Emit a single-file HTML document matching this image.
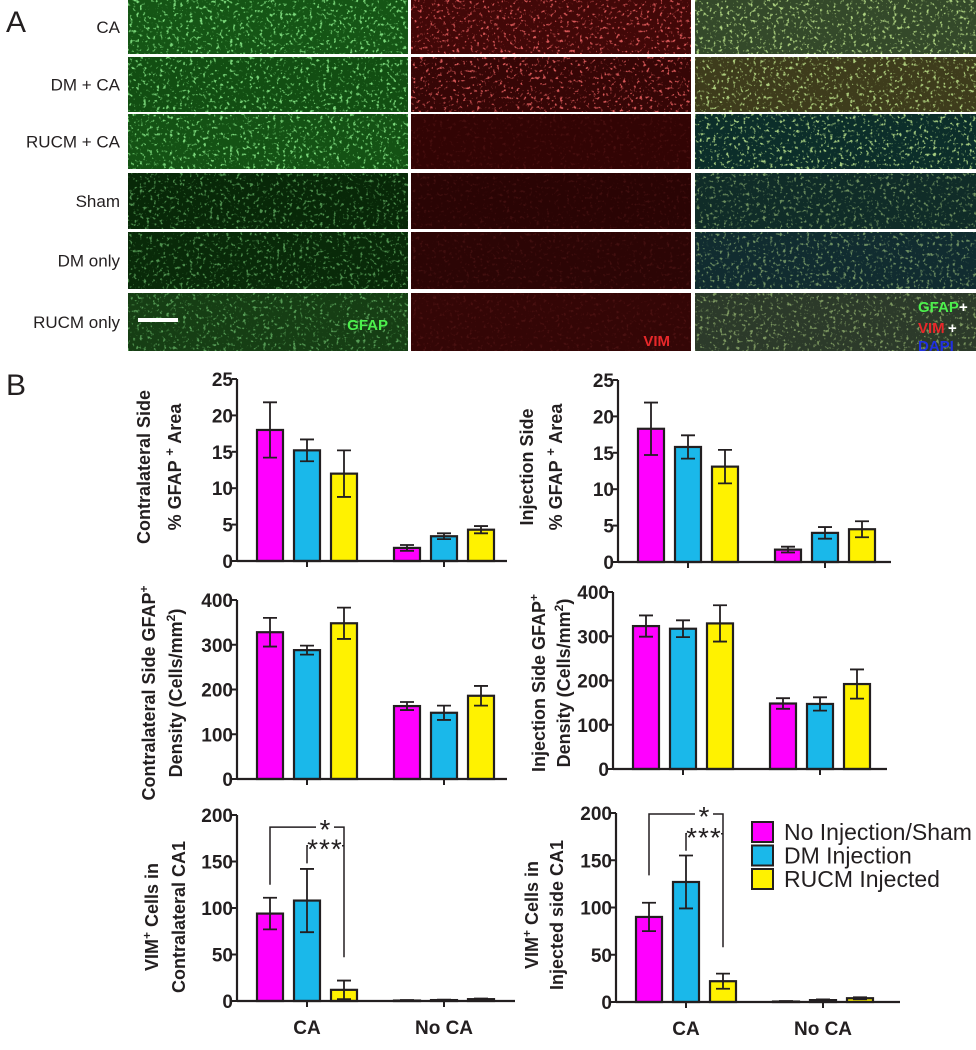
<!DOCTYPE html>
<html><head><meta charset="utf-8">
<style>
html,body{margin:0;padding:0;background:#fff;}
svg{display:block;font-family:"Liberation Sans",Arial,sans-serif;}
.tk{font-weight:bold;font-size:19px;fill:#231f20;}
.yt{font-weight:bold;font-size:18px;fill:#231f20;}
</style></head>
<body>
<svg id="fig" width="976" height="1050" viewBox="0 0 976 1050">
<defs>
<filter id="speck0" x="0" y="0" width="100%" height="100%">
<feTurbulence type="fractalNoise" baseFrequency="0.3" numOctaves="2" seed="4" result="n"/>
<feColorMatrix in="n" type="matrix" values="0 0 0 0 0.3  0 0 0 0 0.95  0 0 0 0 0.3  0 0 0 6 -3.5"/>
</filter>
<filter id="speck1" x="0" y="0" width="100%" height="100%">
<feTurbulence type="fractalNoise" baseFrequency="0.3" numOctaves="2" seed="7" result="n"/>
<feColorMatrix in="n" type="matrix" values="0 0 0 0 1  0 0 0 0 0.15  0 0 0 0 0.15  0 0 0 6 -3.6"/>
</filter>
<filter id="speck2" x="0" y="0" width="100%" height="100%">
<feTurbulence type="fractalNoise" baseFrequency="0.3" numOctaves="2" seed="9" result="n"/>
<feColorMatrix in="n" type="matrix" values="0 0 0 0 0.6  0 0 0 0 0.9  0 0 0 0 0.3  0 0 0 6 -3.5"/>
</filter>
</defs>
<text x="6" y="32" font-size="30" fill="#231f20">A</text>
<text x="6" y="395" font-size="30" fill="#231f20">B</text>
<g id="micro"></g>
<g id="charts"></g>
</svg>
<script>
const NS='http://www.w3.org/2000/svg';
function mk(tag,attrs,parent){const e=document.createElementNS(NS,tag);for(const k in attrs)e.setAttribute(k,attrs[k]);parent.appendChild(e);return e;}
// ---------- micrographs ----------
const rowLabels=['CA','DM + CA','RUCM + CA','Sham','DM only','RUCM only'];
const rowY=[0,57,114,173,232,293];
const rowH=[54,55,55,56,57,58];
const colX=[128,411,695];
const colW=[280,280,281];
const greenC=['#155515','#124e12','#145214','#082808','#092a09','#163e14'];
const redC=['#420808','#360606','#320404','#2a0404','#2c0505','#340606'];
const mergeC=['#34492a','#3e3c1c','#0c2e2a','#102c28','#112c30','#2c3a2a'];
const micro=document.getElementById('micro');
rowLabels.forEach((lab,r)=>{
  const t=mk('text',{x:120,y:rowY[r]+rowH[r]/2+6,'text-anchor':'end','font-size':'17',fill:'#231f20'},micro);
  t.textContent=lab;
  
  
  [greenC,redC,mergeC].forEach((cols,c)=>{
    const g=mk('g',{},micro);
    
    
    mk('rect',{x:colX[c],y:rowY[r],width:colW[c],height:rowH[r],fill:cols[r]},g);
    const o=(c===1&&r>=2)?0.1:(r<3?0.8:0.5);
    mk('rect',{x:colX[c],y:rowY[r],width:colW[c],height:rowH[r],fill:'#000',filter:'url(#speck'+c+')',opacity:o},g);
  });
});
function lbl(x,y,txt,fill,name,anchor){const t=mk('text',{x:x,y:y,'font-size':'15','font-weight':'bold',fill:fill,'text-anchor':anchor||'start'},micro);t.textContent=txt;}
lbl(388,330,'GFAP','#4cf04c','gfap-label','end');
lbl(670,346,'VIM','#e8282a','vim-label','end');
lbl(918,312,'GFAP','#4cf04c','merge-gfap-label');lbl(959,312,'+','#fff','plus1');
lbl(918,333,'VIM','#e8282a','merge-vim-label');lbl(948,333,'+','#fff','plus2');
lbl(918,351,'DAPI','#2030e0','merge-dapi-label');
const sb=mk('rect',{x:138,y:318,width:40,height:4,fill:'#fff'},micro);



// ---------- chart data ----------
const groups=['CA','No CA'];
const seriesNames=['No Injection/Sham','DM Injection','RUCM Injected'];
const colors=['#ff00ff','#1ab8ea','#fff200'];
const tlVals=[[18,15.2,12],[1.8,3.4,4.3]];
const tlErr=[[3.8,1.5,3.2],[0.4,0.4,0.5]];
const trVals=[[18.3,15.8,13.1],[1.7,4.0,4.5]];
const trErr=[[3.6,1.6,2.3],[0.4,0.8,1.1]];
const mlVals=[[328,288,348],[163,148,186]];
const mlErr=[[32,10,35],[9,16,22]];
const mrVals=[[323,317,329],[148,147,192]];
const mrErr=[[24,19,41],[12,15,33]];
const blVals=[[94,108,12],[0.5,1,2]];
const blErr=[[17,34,10],[0.5,0.5,0.6]];
const brVals=[[90,127,22],[0.5,2,4]];
const brErr=[[15,28,8],[0.5,0.8,1]];
const pctTicks=[0,5,10,15,20,25];
const densTicks=[0,100,200,300,400];
const vimTicks=[0,50,100,150,200];
const blSig=[187,167,125,148,47];
const brSig=[199,178,134,160,58];

const charts=document.getElementById('charts');
function chart(cfg){
  const g=mk('g',{},charts);
  
  
  const max=cfg.ticks[cfg.ticks.length-1];
  const y=v=>cfg.y0-(v/max)*(cfg.y0-cfg.yTop);
  const gx=i=>cfg.ax+[70,207][i];
  const bx=(i,j)=>gx(i)+(j-1)*37;
  cfg.vals.forEach((gv,i)=>gv.forEach((v,j)=>{
    const r=mk('rect',{x:bx(i,j)-13,y:y(v),width:26,height:Math.max(cfg.y0-y(v),0.5),fill:colors[j],stroke:'#231f20','stroke-width':2.2},g);
    
    
    const e=cfg.err[i][j];
    const eg=mk('path',{d:`M${bx(i,j)} ${y(v+e)}V${y(Math.max(v-e,0))}M${bx(i,j)-7} ${y(v+e)}h14M${bx(i,j)-7} ${y(Math.max(v-e,0))}h14`,stroke:'#231f20','stroke-width':1.8,fill:'none'},g);
    
    
  }));
  const axy=mk('path',{d:`M${cfg.ax} ${cfg.yTop}V${cfg.y0}`,stroke:'#231f20','stroke-width':2.2,fill:'none'},g);
  
  
  const axx=mk('path',{d:`M${cfg.ax} ${cfg.y0}H${cfg.ax+cfg.len}`,stroke:'#231f20','stroke-width':2.2,fill:'none'},g);
  
  
  cfg.ticks.forEach(t=>{
    mk('path',{d:`M${cfg.ax-5} ${y(t)}H${cfg.ax}`,stroke:'#231f20','stroke-width':2},g);
    const tx=mk('text',{x:cfg.ax-4,y:y(t)+7,'text-anchor':'end',class:'tk'},g);
    tx.textContent=t;
    
    
  });
  groups.forEach((gname,i)=>{
    mk('path',{d:`M${gx(i)} ${cfg.y0}v6`,stroke:'#231f20','stroke-width':2},g);
    if(cfg.xlabels){
      const tx=mk('text',{x:gx(i),y:cfg.y0+33,'text-anchor':'middle',class:'tk'},g);
      tx.textContent=gname;
      
      
    }
  });
  cfg.title.forEach((ln,k)=>{
    const tx=mk('text',{x:0,y:0,'text-anchor':'middle',class:'yt',transform:`translate(${ln.x},${cfg.tc}) rotate(-90)`},g);
    tx.innerHTML=ln.t;
    
    
  });
  if(cfg.sig){
    const s=cfg.sig;
    const xr=bx(0,2);
    const p=mk('path',{d:`M${bx(0,0)} ${y(s[2])}V${y(s[0])}H${xr}V${y(s[4])}M${bx(0,1)} ${y(s[3])}V${y(s[1])}H${xr}`,stroke:'#231f20','stroke-width':1.5,fill:'none'},g);
    
    
    mk('rect',{x:xr-28,y:y(s[0])-3,width:18,height:6,fill:'#fff'},g);
    const a=mk('text',{x:xr-19,y:y(s[0])+12,'text-anchor':'middle','font-size':'28',fill:'#231f20'},g);
    a.textContent='*';
    
    
    mk('rect',{x:xr-36,y:y(s[1])-3,width:34,height:6,fill:'#fff'},g);
    const b=mk('text',{x:xr-19,y:y(s[1])+13,'text-anchor':'middle','font-size':'28','letter-spacing':'1',fill:'#231f20'},g);
    b.textContent='***';
    
    
  }
}
chart({name:'chart-contralateral-area',ax:237,yTop:379,y0:561,len:270,ticks:pctTicks,vals:tlVals,err:tlErr,tc:467,
  title:[{x:150,t:'Contralateral Side'},{x:181,t:'% GFAP <tspan dy="-7" font-size="13">+</tspan><tspan dy="7"> Area</tspan>'}]});
chart({name:'chart-injection-area',ax:618,yTop:380,y0:562,len:273,ticks:pctTicks,vals:trVals,err:trErr,tc:467,
  title:[{x:533,t:'Injection Side'},{x:562,t:'% GFAP <tspan dy="-7" font-size="13">+</tspan><tspan dy="7"> Area</tspan>'}]});
chart({name:'chart-contralateral-density',ax:237,yTop:600,y0:779,len:270,ticks:densTicks,vals:mlVals,err:mlErr,tc:693,
  title:[{x:155,t:'Contralateral Side GFAP<tspan dy="-7" font-size="12">+</tspan>'},{x:182,t:'Density (Cells/mm<tspan dy="-7" font-size="12">2</tspan><tspan dy="7">)</tspan>'}]});
chart({name:'chart-injection-density',ax:613,yTop:592,y0:769,len:274,ticks:densTicks,vals:mrVals,err:mrErr,tc:683,
  title:[{x:545,t:'Injection Side GFAP<tspan dy="-7" font-size="12">+</tspan>'},{x:570,t:'Density (Cells/mm<tspan dy="-7" font-size="12">2</tspan><tspan dy="7">)</tspan>'}]});
chart({name:'chart-contralateral-vim',ax:237,yTop:815,y0:1001,len:278,ticks:vimTicks,vals:blVals,err:blErr,tc:917,xlabels:true,sig:blSig,
  title:[{x:158,t:'VIM<tspan dy="-7" font-size="12">+</tspan><tspan dy="7"> Cells in</tspan>'},{x:185,t:'Contralateral CA1'}]});
chart({name:'chart-injected-vim',ax:616,yTop:813,y0:1002,len:284,ticks:vimTicks,vals:brVals,err:brErr,tc:915,xlabels:true,sig:brSig,
  title:[{x:538,t:'VIM<tspan dy="-7" font-size="12">+</tspan><tspan dy="7"> Cells in</tspan>'},{x:563,t:'Injected side CA1'}]});
const leg=mk('g',{},charts);


seriesNames.forEach((n,j)=>{
  const yy=822+j*23.5;
  const r=mk('rect',{x:752,y:yy,width:21,height:20,fill:colors[j],stroke:'#231f20','stroke-width':2},leg);
  
  
  const t=mk('text',{x:784,y:yy+18,'font-size':'23',fill:'#231f20'},leg);
  t.textContent=n;
  
  
});
</script>
</body></html>
